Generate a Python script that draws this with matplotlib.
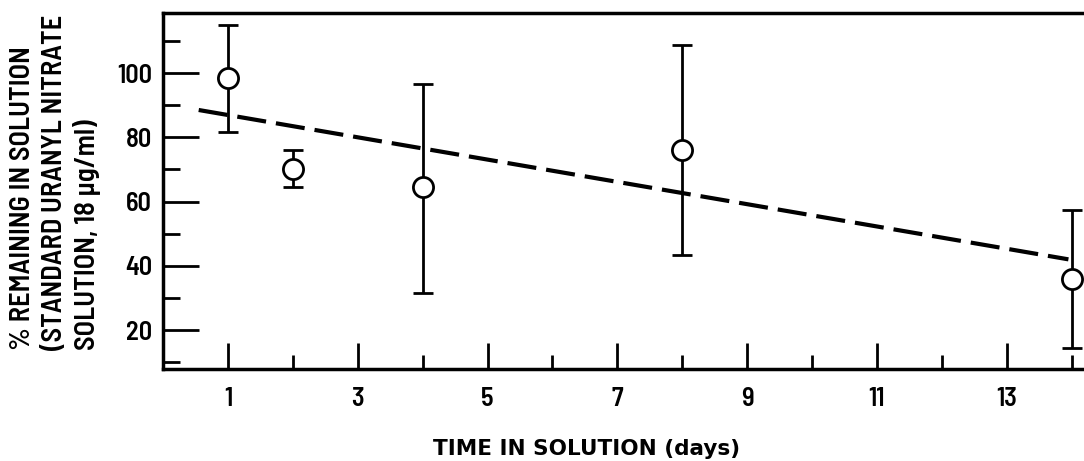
import numpy as np
import matplotlib
matplotlib.use("Agg")
import matplotlib.pyplot as plt
from matplotlib.ticker import MultipleLocator

# Data
days = [1, 2, 4, 8, 14]
pct_remaining = [98.4, 70, 64.5, 76.2, 36]
err_low = [81.6, 64.5, 31.5, 43.5, 14.5]
err_high = [115, 76, 96.5, 108.7, 57.5]

# dashed trend line end points
trend_days = [0.55, 13.95]
trend_pct = [88.5, 42]

x_ticks = [1, 3, 5, 7, 9, 11, 13]
y_ticks = [20, 40, 60, 80, 100]

narrow = ["Barlow Semi Condensed", "DejaVu Sans"]
plt.rcParams["font.family"] = narrow

W, H = 1084, 461
fig = plt.figure(figsize=(W / 100, H / 100), dpi=100)
ax = fig.add_axes([163 / W, 1 - 369 / H, (W - 163) / W, (369 - 13) / H])

yerr = [np.array(pct_remaining) - np.array(err_low),
        np.array(err_high) - np.array(pct_remaining)]

ax.plot(trend_days, trend_pct, color="black", lw=3, dashes=(7, 2.4),
        solid_capstyle="butt", zorder=2)
ax.errorbar(days, pct_remaining, yerr=yerr, fmt="o", color="black",
            mfc="white", mec="black", ms=14.5, mew=2, elinewidth=2,
            capsize=7, capthick=2.5, zorder=3)

ax.set_xlim(0, 14.19)
ax.set_ylim(7.86, 118.7)

ax.set_xticks(x_ticks)
ax.xaxis.set_minor_locator(MultipleLocator(2))
ax.set_yticks(y_ticks)
ax.yaxis.set_minor_locator(MultipleLocator(10))

ax.tick_params(axis="both", which="both", direction="in", width=2, color="black")
ax.tick_params(axis="x", which="major", length=19, pad=13, labelsize=19)
ax.tick_params(axis="x", which="minor", length=10)
ax.tick_params(axis="y", which="major", length=26, pad=8, labelsize=19)
ax.tick_params(axis="y", which="minor", length=12)
for lab in ax.get_xticklabels() + ax.get_yticklabels():
    lab.set_fontweight("semibold")

ax.spines["right"].set_visible(False)
for s in ["left", "top", "bottom"]:
    ax.spines[s].set_linewidth(2.5)

# axis labels
fig.text(587 / W, 1 - 449 / H, "TIME IN SOLUTION (days)", ha="center",
         va="center", fontsize=15.5, fontweight="bold", family="DejaVu Sans")
ylab_lines = ["% REMAINING IN SOLUTION",
              "(STANDARD URANYL NITRATE",
              "SOLUTION, 18 \u03bcg/ml)"]
for i, txt in enumerate(ylab_lines):
    fig.text((23 + 32 * i) / W, 1 - 350 / H, txt, rotation=90, ha="center",
             va="bottom", fontsize=20.5, fontweight="semibold")

fig.savefig("out.png", dpi=100)
